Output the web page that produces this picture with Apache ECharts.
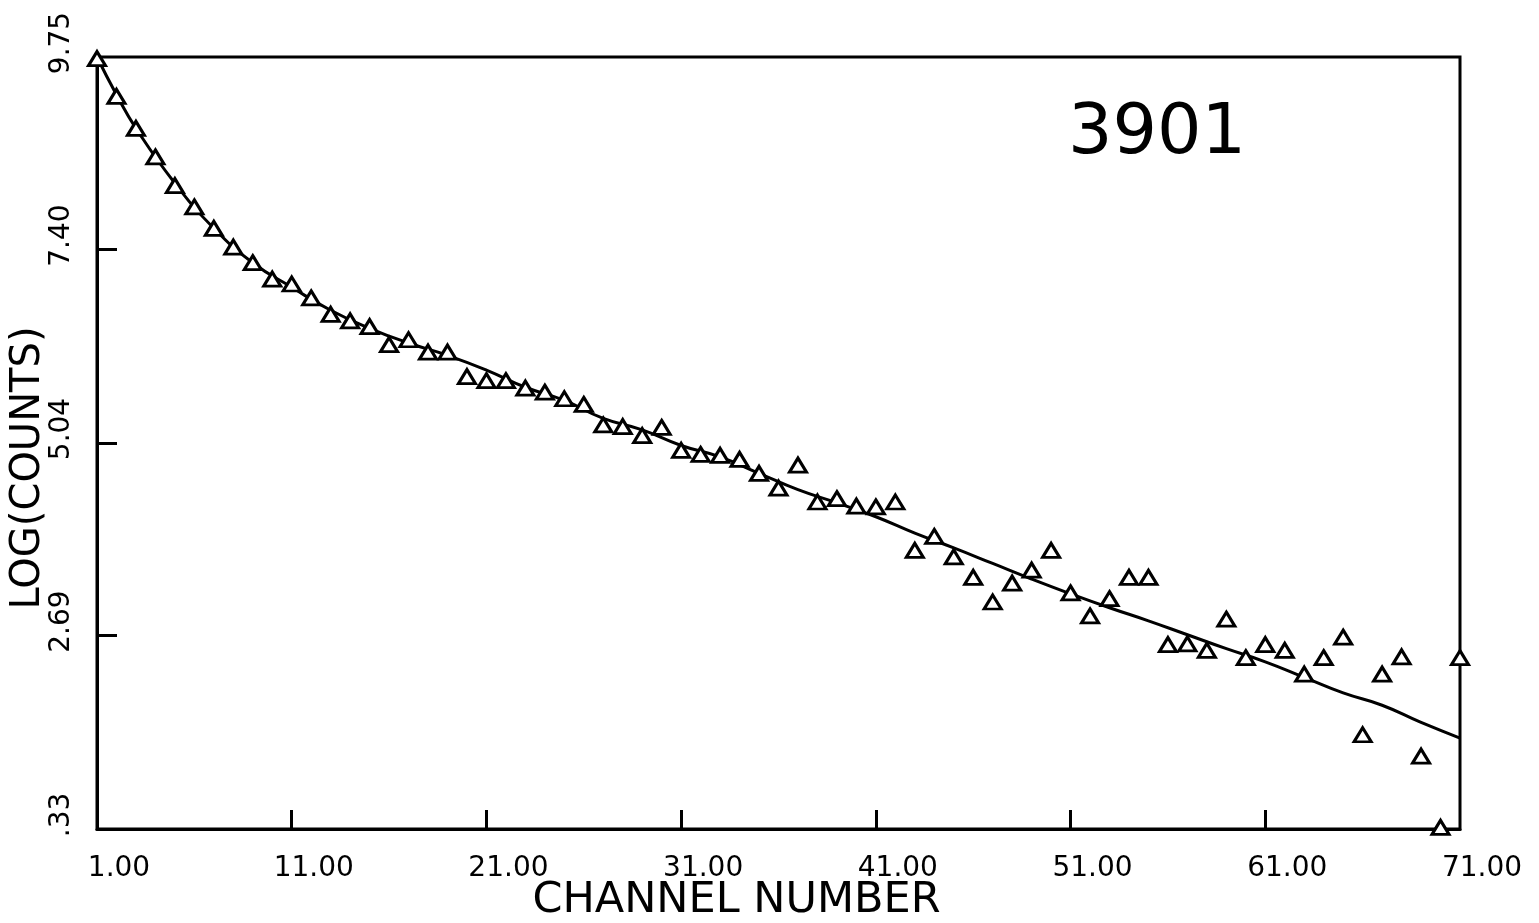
<!DOCTYPE html>
<html>
<head>
<meta charset="utf-8">
<title>3901</title>
<script src="https://cdn.jsdelivr.net/npm/echarts@6/dist/echarts.min.js"></script>
<style>
  html, body { margin: 0; padding: 0; background: #fff; }
  #main { width: 1539px; height: 923px; }
</style>
</head>
<body>
<div id="main"></div>
<script>
// measured points, one per channel
var channels = [1, 2, 3, 4, 5, 6, 7, 8, 9, 10, 11, 12, 13, 14, 15, 16, 17, 18, 19, 20,
  21, 22, 23, 24, 25, 26, 27, 28, 29, 30, 31, 32, 33, 34, 35, 36, 37, 38, 39, 40,
  41, 42, 43, 44, 45, 46, 47, 48, 49, 50, 51, 52, 53, 54, 55, 56, 57, 58, 59, 60,
  61, 62, 63, 64, 65, 66, 67, 68, 69, 70, 71];
var logCounts = [9.73, 9.27, 8.88, 8.53, 8.18, 7.92, 7.66, 7.43, 7.24, 7.04,
  6.98, 6.81, 6.61, 6.53, 6.46, 6.24, 6.30, 6.15, 6.15, 5.85,
  5.80, 5.80, 5.71, 5.66, 5.58, 5.51, 5.26, 5.24, 5.13, 5.23,
  4.95, 4.90, 4.89, 4.84, 4.67, 4.49, 4.77, 4.32, 4.36, 4.27,
  4.26, 4.32, 3.73, 3.90, 3.65, 3.40, 3.10, 3.33, 3.49, 3.73,
  3.21, 2.93, 3.14, 3.40, 3.40, 2.58, 2.59, 2.51, 2.89, 2.42,
  2.58, 2.51, 2.22, 2.42, 2.67, 1.48, 2.22, 2.43, 1.22, 0.35, 2.42];

// fitted curve
var fitChannels = [1, 2, 3, 5, 7, 9, 11, 13, 15, 17, 19, 21, 23, 25, 27, 29, 31, 33, 35,
  37, 39, 41, 43, 45, 47, 49, 51, 53, 55, 57, 59, 61, 63, 65, 67, 69, 71];
var fitValues = [9.75, 9.29, 8.88, 8.21, 7.66, 7.24, 6.94, 6.66, 6.44, 6.26, 6.11, 5.93,
  5.72, 5.56, 5.34, 5.20, 5.01, 4.87, 4.67, 4.47, 4.31, 4.14, 3.94, 3.76, 3.57,
  3.38, 3.20, 3.03, 2.87, 2.70, 2.53, 2.37, 2.18, 1.99, 1.84, 1.63, 1.44];

var xLabels = [1, 11, 21, 31, 41, 51, 61, 71];
var xTicks = [11, 21, 31, 41, 51, 61];
var yLabels = [0.33, 2.69, 5.04, 7.40, 9.75];
var yTicks = [2.69, 5.04, 7.40];

var chartDom = document.getElementById('main');
var myChart = echarts.init(chartDom);
var option;

var font = 'DejaVu Sans';

var points = channels.map(function (c, i) { return [c, logCounts[i]]; });
var fit = fitChannels.map(function (c, i) { return [c, fitValues[i]]; });

option = {
    backgroundColor: '#fff',
    animation: false,
    grid: {
        left: 97, right: 79, top: 57, bottom: 94,
        outerBoundsMode: 'none',
        containLabel: false,
        show: true,
        borderColor: '#000',
        borderWidth: 3
    },
    title: {
        text: '3901',
        left: 1063,
        top: 95,
        textStyle: { fontFamily: font, fontSize: 70, fontWeight: 'normal', color: '#000' }
    },
    xAxis: {
        type: 'value',
        min: 1,
        max: 71,
        name: 'CHANNEL NUMBER',
        nameLocation: 'middle',
        nameMoveOverlap: false,
        nameGap: 50,
        nameTextStyle: {
            fontFamily: font, fontSize: 43, color: '#000',
            padding: [0, 84, 0, 0]
        },
        axisLine: { show: true, lineStyle: { color: '#000', width: 3 } },
        axisTick: {
            show: true, inside: true, length: 19,
            customValues: xTicks,
            lineStyle: { color: '#000', width: 3 }
        },
        axisLabel: {
            customValues: xLabels,
            margin: 26,
            fontFamily: font, fontSize: 28, color: '#000',
            padding: [0, 0, 0, 44],
            formatter: function (v) { return v.toFixed(2); }
        },
        splitLine: { show: false }
    },
    yAxis: {
        type: 'value',
        min: 0.33,
        max: 9.75,
        name: 'LOG(COUNTS)',
        nameLocation: 'middle',
        nameMoveOverlap: false,
        nameGap: 48,
        nameTextStyle: {
            fontFamily: font, fontSize: 40, color: '#000',
            padding: [0, 50, 0, 0]
        },
        axisLine: { show: true, lineStyle: { color: '#000', width: 3 } },
        axisTick: {
            show: true, inside: true, length: 20,
            customValues: yTicks,
            lineStyle: { color: '#000', width: 3 }
        },
        axisLabel: {
            customValues: yLabels,
            rotate: 90,
            margin: 21,
            fontFamily: font, fontSize: 28, color: '#000',
            padding: [0, 0, 0, 28],
            formatter: function (v) {
                var s = v.toFixed(2);
                return s.charAt(0) === '0' ? s.slice(1) : s;
            }
        },
        splitLine: { show: false }
    },
    series: [
        {
            type: 'line',
            data: fit,
            smooth: true,
            showSymbol: false,
            lineStyle: { color: '#000', width: 3 },
            z: 2
        },
        {
            type: 'scatter',
            data: points,
            symbol: 'triangle',
            symbolSize: [17, 14],
            clip: false,
            itemStyle: { color: '#fff', borderColor: '#000', borderWidth: 3, opacity: 1 },
            z: 3
        }
    ]
};

option && myChart.setOption(option);
</script>
</body>
</html>
